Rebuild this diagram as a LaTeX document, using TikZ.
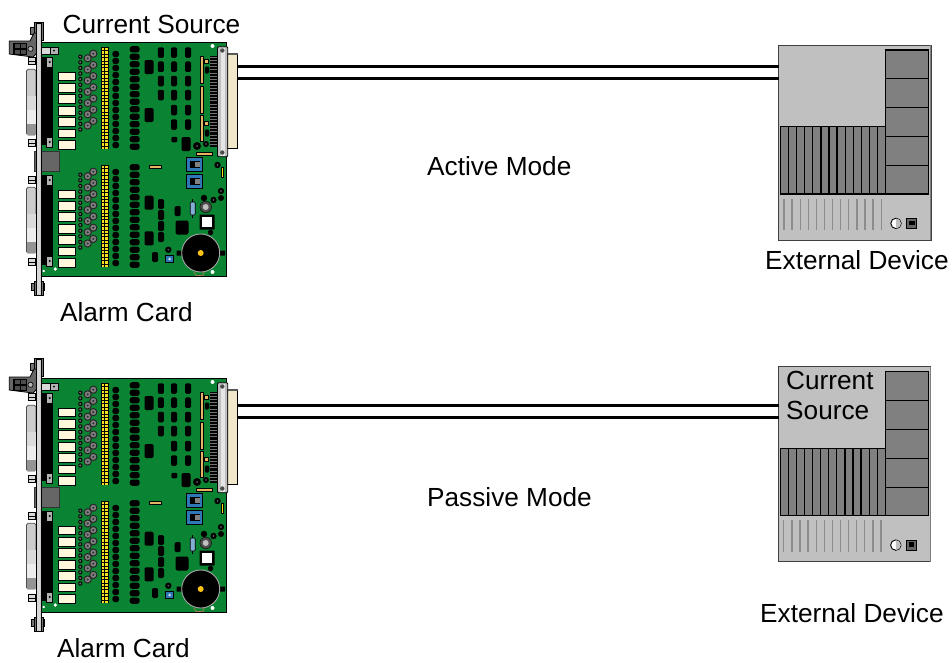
\documentclass[tikz,border=0pt]{standalone}
\usepackage{fontspec}
\setmainfont{Liberation Sans}
\definecolor{boardgreen}{HTML}{0A8432}
\definecolor{relaycream}{HTML}{FFF8DC}
\definecolor{conncream}{HTML}{F0E8C8}
\definecolor{pcbgold}{HTML}{E2B565}
\definecolor{pinyellow}{HTML}{F8E020}
\definecolor{swblue}{HTML}{2E78B8}
\definecolor{devlight}{HTML}{C0C0C0}
\definecolor{devdark}{HTML}{808080}
\definecolor{devvent}{HTML}{8C8C8C}
\tikzset{
  labeltext/.style={font=\fontsize{26.2}{30}\selectfont, inner sep=0pt, text=black},
  cableline/.style={line width=3pt, draw=black},
  chip/.style={fill=black, rounded corners=1.3pt},
  outlined/.style={draw=black, line width=1pt},
  devbody/.style={fill=devlight, draw=black!75, line width=1pt},
  devblock/.style={fill=devdark, draw=black, line width=1.1pt},
}
\newcommand{\bx}[5][chip]{\path[#1] ({#2-(#4)/2},{#3-(#5)/2}) rectangle ({#2+(#4)/2},{#3+(#5)/2});}
\newcommand{\gearDot}[3]{\fill[black] (#1,#2) circle[radius=#3pt]; \fill[black!55] (#1,#2) circle[radius=0.8pt];}
\newcommand{\cardgroup}[1]{%
  % relays
  \foreach \i in {0,...,6}{\bx[fill=relaycream,outlined]{67.2}{#1+76.6+11.35*\i}{17.5}{8.7}}
  % small parts
  \foreach \i in {0,...,13}{\bx[fill=black!60,draw=black,line width=0.9pt,rounded corners=1pt]{80.3}{#1+56.7+5.6*\i}{3.2}{3.2}}
  % rings
  \foreach \i in {0,...,6}{
    \fill[black!50,draw=black!85,line width=1pt] (93.3,{#1+53.7+11.2*\i}) circle[radius=3.6pt];
    \fill[black!80] (93.3,{#1+53.7+11.2*\i}) circle[radius=1.2pt];
    \fill[black!50,draw=black!85,line width=1pt] (87.7,{#1+58.3+11.2*\i}) circle[radius=3.6pt];
    \fill[black!80] (87.7,{#1+58.3+11.2*\i}) circle[radius=1.2pt];
  }
  % yellow header
  \fill[black] (101,{#1+47.3}) rectangle (108.7,{#1+149.3});
  \foreach \i in {0,...,29}{
    \fill[pinyellow] (101.8,{#1+48+3.4*\i}) rectangle (104.4,{#1+50.3+3.4*\i});
    \fill[pinyellow] (105.2,{#1+48+3.4*\i}) rectangle (107.8,{#1+50.3+3.4*\i});
  }
  % dot columns
  \foreach \i in {0,...,13}{
    \bx[fill=black,rounded corners=2.5pt]{115.7}{#1+54+7*\i}{6.6}{6.2}
    \bx[fill=black,rounded corners=2.5pt]{134.7}{#1+49.3+7.49*\i}{10}{6.2}
  }
  % D-sub
  \fill[black!20,draw=black!70,line width=0.7pt,rounded corners=1.5pt] (26.5,{#1+69.3}) rectangle (36,{#1+135});
  \fill[black!14] (27,{#1+96}) rectangle (35.6,{#1+110});
  \fill[black!7] (27,{#1+110}) rectangle (35.6,{#1+123.5});
  \fill[black!42] (27,{#1+123.5}) rectangle (35.6,{#1+134.5});
}
\tikzset{
  pics/alarmcard/.style={code={
    % board
    \fill[boardgreen,draw=black,line width=1pt] (41,42) rectangle (226.7,276);
    \cardgroup{0}
    \cardgroup{118}
    % black strips
    \fill[black] (41.7,57) rectangle (53.3,145);
    \fill[black] (41.7,175) rectangle (53.3,265);
    \foreach \yy in {62,142,180,261}{
      \bx[fill=black!30,draw=black,line width=0.5pt]{49.7}{\yy}{6}{10}
      \fill[black] (49.7,\yy) circle[radius=1.1pt];
    }
    % screws on the face
    \foreach \yy in {61,143,180,262}{
      \bx[fill=black!15,draw=black,line width=0.7pt]{32}{\yy}{7.5}{7.5}
      \draw[black,line width=0.4pt] (28.5,\yy) -- (35.5,\yy);
    }
    % small top block
    \fill[black!15,draw=black,line width=0.5pt] (41,47) rectangle (50,54);
    \fill[black!30,draw=black,line width=0.5pt] (50,47) rectangle (58,54);
    \fill[black] (54,50.5) circle[radius=1pt];
    % centre connector
    \fill[black!60,draw=black!80,line width=0.8pt] (34.5,151) rectangle (59,171);
    % upper ICs
    \foreach \yy in {52.5,66.7,81,95}{\bx{160.9}{\yy}{6}{10.5}}
    \foreach \yy in {52.5,66.7,81,95,110,124.5}{\bx{174}{\yy}{6}{10.5}\bx{188}{\yy}{6}{10.5}}
    \bx{174.4}{139.5}{6}{5.5}
    \bx{149}{67}{9}{14}
    \bx{149}{115}{9}{14}
    \bx{186}{144}{9}{14}
    % gold strips
    \foreach \a/\b in {56.7/83.3,86.7/113.3,115/141.7}{
      \fill[pcbgold,draw=black,line width=0.5pt] (200,\a) rectangle (203,\b);
    }
    \foreach \yy in {61,123}{\bx[fill=pcbgold,draw=black,line width=0.5pt]{206}{\yy}{3.5}{4.5}}
    \foreach \yy in {70,133}{\bx{207}{\yy}{4.5}{7}}
    \fill[white] (212.5,46) circle[radius=2pt];
    % right-hand connector
    \fill[conncream,draw=black,line width=0.9pt] (227.7,53) rectangle (237.7,148.5);
    \fill[black!65] (227.7,53) rectangle (237.7,55);
    \fill[black] (210,55.7) rectangle (217.5,146.7);
    \foreach \i in {0,...,28}{\fill[black!55] (210.3,{57+3.1*\i}) rectangle (217.3,{58+3.1*\i});}
    \fill[black!25,draw=black,line width=0.9pt,rounded corners=1pt] (217.5,46.7) rectangle (227.7,156.7);
    \fill[black!10] (221,48) rectangle (225,155.5);
    \foreach \yy in {50.5,152.5}{\fill[black!70] (222.3,\yy) circle[radius=2.2pt];}
    % lower-right small parts
    \gearDot{197}{146}{4}
    \gearDot{206}{144}{3}
    \bx[fill=pcbgold,draw=black,line width=0.8pt]{204.5}{153.6}{16}{3}
    \bx[fill=pcbgold,draw=black,line width=0.8pt]{155.5}{167}{12}{3}
    \foreach \yy in {164.7,181}{
      \bx[fill=swblue,draw=black,line width=0.5pt]{194}{\yy}{16}{14}
      \bx[fill=black,rounded corners=0pt]{195}{\yy}{10}{7}
      \fill[black!50] (195,{\yy-2.5}) rectangle (199.5,{\yy+2.5});
    }
    \gearDot{217.5}{165}{3.2}
    \bx[fill=pinyellow,draw=black,line width=0.5pt]{222.3}{172}{2}{10}
    \gearDot{221}{191}{3.2}
    \fill[black] (221,198) circle[radius=3pt];
    \gearDot{213.5}{200}{3.2}
    \fill[black] (204,198) circle[radius=3.2pt];
    \draw[black,line width=0.8pt] (192.7,199) -- (192.7,218);
    \bx[fill=swblue!60,draw=black,line width=0.6pt,rounded corners=1pt]{192.7}{208.5}{5}{13}
    \fill[black!70,draw=black] (205.7,207) circle[radius=5.8pt];
    \fill[black!25] (205.7,207) circle[radius=3pt];
    \bx[fill=black,rounded corners=0.5pt]{207}{222}{15}{15}
    \bx[fill=white,rounded corners=0pt]{207}{222}{10.5}{9.5}
    \bx{210.5}{232.5}{5}{5}
    \bx[fill=black,rounded corners=0.5pt]{179}{253}{5}{5}
    \bx[fill=black,rounded corners=0.5pt]{222.5}{253}{5}{5}
    \draw[pcbgold!70!black,line width=0.8pt] (194,272) -- (196,275.5) -- (203,275.5) -- (204,272);
    \fill[black,draw=black!35,line width=0.9pt] (200.7,253) circle[radius=19pt];
    \fill[pinyellow!70!orange] (200.7,253) circle[radius=3pt];
    \fill[white] (212.5,272) circle[radius=2pt];
    \bx[chip,rounded corners=2pt]{182}{227.5}{13}{14}
    \bx{149}{202.7}{9}{14}
    \bx{149}{238.3}{9}{14}
    \foreach \yy in {204,215,226,237}{\bx{161}{\yy}{6}{10}}
    \bx{177.7}{211}{6}{10}
    \bx{155}{257}{6}{10}
    \gearDot{168.3}{249.7}{3.2}
    \bx[fill=swblue,draw=black,line width=0.8pt,rounded corners=0pt]{169.7}{259}{8}{7.5}
    \fill[white!70!swblue] (169.7,259) circle[radius=1.5pt];
    \fill[white] (43.7,271) circle[radius=1.4pt];
    \fill[white] (55.3,269) circle[radius=1.8pt];
    % faceplate
    \fill[black!55,draw=black,line width=0.7pt] (34,22.5) rectangle (43.5,40);
    \fill[black!55,draw=black,line width=0.7pt] (31,283) rectangle (44,290);
    \fill[black!55,draw=black,line width=0.7pt] (34.5,281) rectangle (43.5,295.5);
    \fill[black!55,draw=black,line width=0.7pt] (30.5,27) rectangle (34,34);
    % handle
    \fill[black!60,draw=black,line width=0.8pt] (9.3,41) -- (30,41) -- (34,33) -- (38,33) -- (38,52) -- (33,57) -- (9.3,54) -- cycle;
    \fill[black] (13,42.5) rectangle (27,54.5);
    \foreach \xx/\yy in {14.5/43.8,20.8/43.8,14.5/49.8,20.8/49.8}{\fill[black!70] (\xx,\yy) rectangle ({\xx+5},{\yy+4.3});}
    \fill[black!30,draw=black,line width=0.6pt] (30.5,48.8) circle[radius=2.6pt];
    \fill[black!20,draw=black,line width=0.9pt] (36.3,23.5) rectangle (41,295);
    \fill[white!85!black] (37.4,24.5) rectangle (39.8,294);
  }},
  pics/extdevice/.style={code={
    \fill[devbody] (778.5,45) rectangle (931,240);
    \fill[black!50] (930,45) rectangle (931,240);
    \foreach \t/\b in {50/78.5,78.5/107.5,107.5/136.5,136.5/165.5,165.5/194}{
      \path[devblock] (885.7,\t) rectangle (928.7,\b);
    }
    \path[devblock] (780.5,126.5) rectangle (885.7,194);
    \foreach \i in {0,...,11}{\draw[black,line width=1.2pt] ({788.7+8.06*\i},126.5) -- ({788.7+8.06*\i},194);}
    \foreach \i in {0,...,12}{\draw[devvent,line width=1.3pt] ({784+8.1*\i},198.5) -- ({784+8.1*\i},230);}
    \fill[white,draw=black,line width=0.9pt] (896,223.4) circle[radius=5.2pt];
    \fill[black!25] (896,218.4) arc[start angle=90,end angle=-90,radius=5pt] -- cycle;
    \bx[fill=black!60,draw=black,line width=1pt,rounded corners=0pt]{911.7}{223.7}{10}{10.5}
    \fill[black] (909,220.5) rectangle (914.5,225);
  }},
}
\begin{document}
\begin{tikzpicture}[x=1pt,y=-1pt]
  \useasboundingbox (0,0) rectangle (952,662);
  \fill[white] (0,0) rectangle (952,662);
  \pic at (0,0) {alarmcard};
  \pic at (0,336) {alarmcard};
  \pic at (0,0) {extdevice};
  \pic at (-0.2,321.7) {extdevice};
  \coordinate (cardaU) at (238,66.5);
  \coordinate (cardaL) at (238,78.5);
  \coordinate (devaU) at (779,66.5);
  \coordinate (devaL) at (779,78.5);
  \coordinate (cardbU) at (238,405);
  \coordinate (cardbL) at (238,417);
  \coordinate (devbU) at (779,405);
  \coordinate (devbL) at (779,417);
  \draw[cableline] (cardaU) -- (devaU);
  \draw[cableline] (cardaL) -- (devaL);
  \draw[cableline] (cardbU) -- (devbU);
  \draw[cableline] (cardbL) -- (devbL);
  \node[labeltext,anchor=base west] (t1) at (62.5,33.5) {Current Source};
  \node[labeltext,anchor=base west] (t2) at (60,321) {Alarm Card};
  \node[labeltext,anchor=base west] (t3) at (427,175) {Active Mode};
  \node[labeltext,anchor=base west] (t4) at (765,269) {External Device};
  \node[labeltext,anchor=base west] (t5) at (57,657) {Alarm Card};
  \node[labeltext,anchor=base west] (t6) at (427,506) {Passive Mode};
  \node[labeltext,anchor=base west] (t7) at (760,622) {External Device};
  \node[labeltext,anchor=base west] (t8) at (786,389) {Current};
  \node[labeltext,anchor=base west] (t9) at (786,419) {Source};
\end{tikzpicture}
\end{document}
